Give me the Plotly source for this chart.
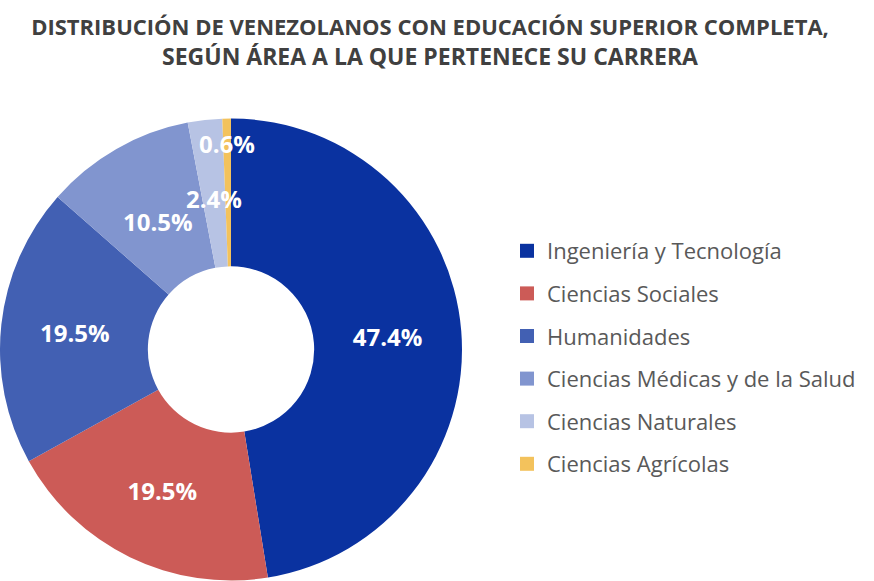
import math
import plotly.graph_objects as go

categories = ["Ingeniería y Tecnología", "Ciencias Sociales", "Humanidades",
              "Ciencias Médicas y de la Salud", "Ciencias Naturales", "Ciencias Agrícolas"]
values = [47.4, 19.5, 19.5, 10.5, 2.4, 0.6]
colors = ["#0A32A0", "#CC5B57", "#4260B3", "#8195CF", "#B7C3E4", "#F3C25C"]
title_lines = ["DISTRIBUCIÓN DE VENEZOLANOS CON EDUCACIÓN SUPERIOR COMPLETA,",
               "SEGÚN ÁREA A LA QUE PERTENECE SU CARRERA"]

W, H = 874, 581
MT = 118
HOLE = 0.36
SMALL = 11.0                              # slices below this get a placed label
SMALL_R = {3: 0.64, 4: 0.66, 5: 0.89}     # radial position (fraction of radius) of those labels

labels_txt = [f"{v:.1f}%" for v in values]
pie_text = [t if v >= SMALL else "" for t, v in zip(labels_txt, values)]

dom_x = [0, 462 / W]
fig = go.Figure()
fig.add_trace(go.Pie(
    labels=categories, values=values, text=pie_text,
    texttemplate="%{text}", textposition="inside", insidetextorientation="horizontal",
    marker=dict(colors=colors, line=dict(width=0)),
    hole=HOLE, sort=False, direction="clockwise", rotation=0,
    textfont=dict(family="Open Sans", size=24, color="white", weight="bold"),
    domain=dict(x=dom_x, y=[0, 1]),
    showlegend=False, hoverinfo="label+percent",
))
for name, col in zip(categories, colors):
    fig.add_trace(go.Scatter(
        x=[None], y=[None], mode="markers", name=name, legendgroup=name,
        marker=dict(symbol="square", size=14, color=col), hoverinfo="skip",
    ))

# labels of the thinner slices, placed along each slice's middle angle
ph = H - MT
pw = W
cx = (dom_x[0] + dom_x[1]) / 2 * pw
cy = ph / 2
R = min((dom_x[1] - dom_x[0]) * pw, ph) / 2
total = sum(values)
annotations = []
cum = 0.0
for i, v in enumerate(values):
    mid = (cum + v / 2) / total * 2 * math.pi
    cum += v
    if v < SMALL:
        r = SMALL_R.get(i, 0.68) * R
        annotations.append(dict(
            x=(cx + r * math.sin(mid)) / pw, y=(cy + r * math.cos(mid)) / ph,
            xref="paper", yref="paper", xanchor="center", yanchor="middle",
            text=labels_txt[i], showarrow=False,
            font=dict(family="Open Sans", size=24, color="white", weight="bold"),
        ))

fig.update_layout(
    width=W, height=H,
    margin=dict(l=0, r=0, t=MT, b=0),
    paper_bgcolor="white", plot_bgcolor="white",
    title=dict(text=f"<span style='font-size:22px'>{title_lines[0]}</span><br>{title_lines[1]}",
               x=0.492, xanchor="center",
               y=1 - 35 / H, yanchor="middle", yref="container",
               font=dict(family="Open Sans", size=23, color="#404040", weight="bold")),
    xaxis=dict(visible=False), yaxis=dict(visible=False),
    legend=dict(x=507 / W, xanchor="left", y=1 - (230 - MT) / ph, yanchor="top",
                font=dict(family="Open Sans", size=22, color="#595959"),
                tracegroupgap=11, itemwidth=30, bgcolor="rgba(0,0,0,0)"),
    annotations=annotations,
    uniformtext=dict(minsize=24, mode="show"),
)
fig.write_html("out.html")
